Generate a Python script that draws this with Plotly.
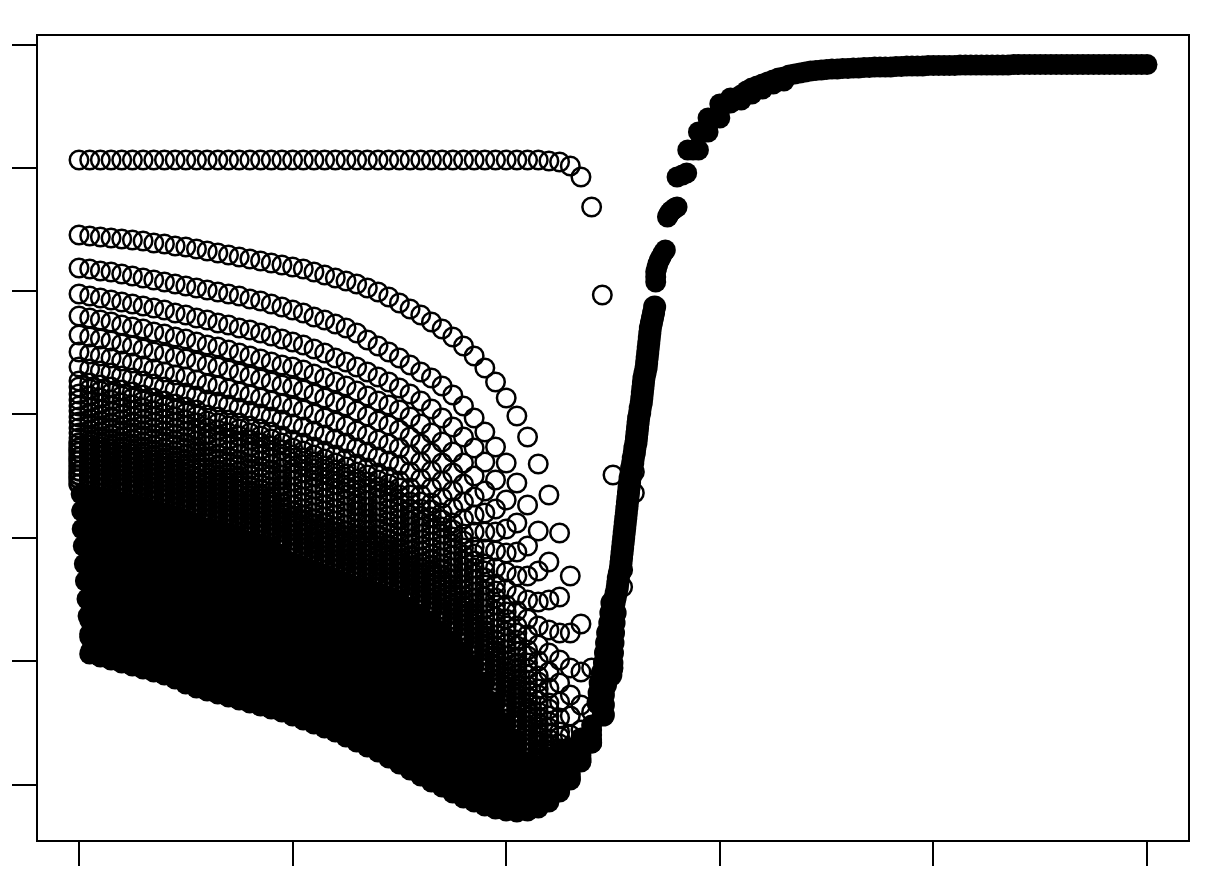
import plotly.graph_objects as go

x_ticks = [0, 20, 40, 60, 80, 100]
y_ticks = [15, 139, 262, 386, 509, 632, 755]

# upper family of curves, one value per x index starting at 0
flat_curve = [640] * 43 + [640, 639, 638, 634, 623, 593, 505, 325]
open_curves = [
    [565,564,563,562,561,560,559,557,556,554,553,551,549,547,545,543,541,539,537,535,533,531,528,525,522,519,516,512,508,503,497,491,485,478,471,463,454,444,432,418,402,384,363,336,305,267,224,176,132],
    [532,531,529,528,526,524,522,520,518,516,514,512,510,508,506,504,501,499,496,493,490,487,483,480,476,472,467,460,454,448,442,435,428,422,414,405,394,382,368,353,337,317,295,269,238,203,167,128,88],
    [506,504,502,500,498,496,494,492,490,487,485,482,480,477,475,472,470,467,464,461,458,455,451,447,442,438,433,428,423,418,412,406,399,391,382,373,363,352,338,320,300,277,254,229,200,167,132,95],
    [484,482,480,478,475,473,471,468,466,463,461,458,455,453,450,447,444,441,438,435,433,430,426,422,418,414,409,404,399,395,390,383,376,367,358,348,337,324,309,291,271,248,224,198,170,140,105,70],
    [465,463,461,459,456,454,451,448,446,443,441,438,435,433,430,427,424,421,418,415,413,410,406,402,398,394,389,384,379,375,370,363,356,347,337,327,316,303,287,268,247,224,200,174,147,117,84,50],
    [448,446,444,442,439,437,434,431,428,425,423,420,416,414,411,408,405,402,399,396,393,390,386,382,378,374,369,365,360,356,352,345,338,329,319,309,298,285,268,249,228,205,181,155,128,98,65],
    [433,431,429,427,424,422,419,416,413,410,407,404,400,398,395,392,389,386,383,380,376,373,369,365,361,357,352,348,343,339,335,328,321,312,302,292,281,268,251,232,211,189,165,139,112,82,50],
    [419,417,415,413,410,408,405,402,399,396,393,390,385,383,380,377,374,371,368,364,360,357,353,349,345,341,336,332,327,323,319,312,305,297,287,277,266,253,236,216,195,174,150,124,97,68],
    [413,411,409,407,404,402,399,396,393,390,387,384,379,377,374,371,367,364,361,357,352,349,345,341,337,333,328,325,320,316,312,305,298,290,280,270,259,246,229,209,188,167,144,118,91,63],
    [406,404,402,400,397,395,392,389,386,383,380,377,372,370,367,364,360,357,354,350,345,342,338,334,330,326,321,318,313,309,305,298,291,283,273,263,252,239,222,202,181,160,137,111,84,56],
    [400,398,396,394,391,389,386,383,380,377,374,370,365,363,360,357,353,350,347,343,338,335,331,327,323,319,314,311,306,302,298,291,284,276,266,256,245,232,215,195,174,154,131,105,78,51],
    [394,392,390,388,385,383,380,377,374,371,368,364,359,357,354,351,347,344,341,337,331,328,324,320,316,312,307,305,300,296,292,285,278,270,260,250,239,226,209,189,168,148,125,99,72,45],
    [389,387,385,383,380,378,375,372,369,366,363,359,354,352,349,346,342,339,336,331,325,321,317,313,309,305,300,299,294,290,286,279,272,264,254,244,233,220,203,183,162,143,120,94,67,40],
    [383,381,379,377,374,372,369,366,363,360,357,353,348,346,343,340,336,333,330,325,319,315,311,307,303,299,294,293,288,284,280,273,266,258,248,238,227,214,197,177,156,137,114,88,61,34],
    [378,376,374,372,369,367,364,361,358,355,352,348,343,341,338,335,331,328,325,320,313,309,305,301,297,293,288,287,282,278,274,267,260,252,242,232,221,208,191,171,150,132,109,83,56],
    [372,370,368,366,363,361,358,355,352,349,346,342,337,335,332,329,325,322,319,314,307,303,299,295,291,287,282,281,276,272,268,261,254,246,236,226,215,202,185,165,144,126,103,77,50],
    [367,365,363,361,358,356,353,350,347,344,341,337,332,330,327,324,319,316,313,308,301,297,293,289,285,281,277,276,271,267,263,256,249,241,231,221,210,197,180,160,139,121,98,73,46],
    [362,360,358,356,353,351,348,345,342,339,336,332,327,325,322,319,314,311,308,303,295,291,287,283,279,275,271,270,265,261,257,250,243,235,225,215,204,191,174,154,133,115,92,67,40],
    [357,355,353,351,348,346,343,340,337,334,331,327,322,320,317,314,309,306,303,297,289,285,281,277,273,269,265,264,259,255,251,244,237,230,220,210,199,186,169,149,128,111,88,63,37],
    [352,350,348,346,343,341,338,335,332,329,326,322,317,315,312,309,304,301,298,292,284,280,276,272,268,264,260,259,254,250,246,239,232,225,215,205,194,181,164,144,123,106,83,58,32],
    [348,346,344,342,339,337,334,331,328,325,322,318,313,311,308,305,300,297,294,287,279,275,271,267,263,259,255,254,249,245,241,234,227,220,210,200,189,176,159,139,118,102,79,55],
    [343,341,339,337,334,332,329,326,323,320,317,313,308,306,303,300,295,292,289,282,274,270,266,262,258,254,250,249,244,240,236,229,222,215,205,195,184,171,154,134,113,97,74,50],
    [339,337,335,333,330,328,325,322,319,316,313,309,304,302,299,296,291,288,285,278,270,266,262,258,254,250,246,245,240,236,232,225,218,211,201,191,180,167,150,130,109,93,70,47],
    [334,332,330,328,325,323,320,317,314,311,308,304,299,297,294,291,286,283,280,273,265,261,257,253,249,245,241,240,235,231,227,220,213,206,196,186,175,162,145,125,104,88,65,42],
    [329,327,325,323,320,318,315,312,309,306,303,299,294,292,289,286,281,278,275,268,260,256,252,248,244,240,236,235,230,226,222,215,208,201,191,181,170,157,140,120,99,83,60,38],
    [325,323,321,319,316,314,311,308,305,302,299,295,290,288,285,282,277,274,271,264,256,252,248,244,240,236,232,231,226,222,218,211,204,197,187,177,166,153,136,116,95,79,56,34],
    [321,319,317,315,312,310,307,304,301,298,295,291,286,284,281,278,273,270,267,260,252,248,244,240,236,232,228,227,222,218,214,207,200,193,183,173,162,149,132,112,91,75,52],
    [316,314,312,310,307,305,302,299,296,293,290,286,281,279,276,273,268,265,262,255,247,243,239,235,231,227,223,222,217,213,209,202,195,188,178,168,157,144,127,107,86,70,47],
]

# dense lower part, too overlapped to read one ring at a time
dense_rows = [
    [306,304,302,300,297,295,292,289,286,283,280,276,271,269,266,263,258,255,252,245,237,233,229,225,221,217,213,212,207,203,199,192,185,178,168,158,147,134,117,97,76,60,37,30,42,48,52,62,75],
    [289,286,284,282,279,277,274,271,268,265,262,258,253,251,248,245,240,237,234,228,220,216,212,208,204,200,196,194,189,185,181,174,167,160,151,141,131,119,103,85,66,52,32,20,30,36,42,55,70],
    [271,268,266,264,261,259,256,253,250,247,244,240,235,233,230,227,222,219,216,210,203,199,195,191,187,183,179,176,171,167,163,156,149,142,134,124,115,104,89,73,56,44,27,15,18,26,36,50,65],
    [254,251,249,246,244,241,238,235,232,229,225,221,217,215,212,209,204,201,198,193,186,182,178,174,170,166,161,158,154,149,145,138,131,125,117,108,99,89,76,62,47,36,21,10,12,20,31,45,60],
    [236,233,231,229,226,223,220,217,214,211,207,203,199,197,194,191,186,183,180,175,169,165,161,157,153,149,144,141,136,131,127,120,113,107,100,91,83,74,62,50,37,28,16,5,6,14,26,42,58],
    [219,216,213,211,208,205,202,199,196,193,189,185,181,178,175,172,168,165,162,158,152,148,144,140,136,131,127,123,118,113,108,102,96,89,83,74,66,59,48,38,27,20,11,0,3,11,23,40,57],
    [201,198,196,193,190,187,184,181,178,175,171,167,163,160,157,154,150,147,144,140,135,131,127,123,119,114,110,105,101,95,90,84,78,71,65,57,50,44,34,26,18,12,5,-2,0,9,21],
    [184,180,178,175,172,169,166,163,160,157,152,149,145,142,139,136,132,129,126,123,118,114,110,106,102,97,93,88,83,77,72,66,60,53,48,41,34,29,20,14,8,4,0],
    [166,163,160,158,155,152,149,146,143,139,134,130,127,124,121,118,115,112,109,105,101,97,93,89,85,80,75,70,65,59,54,48,42,36,31,24,18,14,7,3,-1,-4,-6],
    [149,146,143,140,137,134,131,128,125,121,116,112,109,106,103,100,97,94,91,88,84,80,76,72,68,63,58,53,48,42,36,30,24,18,13,7,2,-2,-6,-9,-11,-12,-11,-8,-2,8,20,38,57,85,132],
]
# the left edge of the lower rows leans to the right
dense_first_x = [0.2, 0.25, 0.3, 0.4, 0.5, 0.6, 0.75, 0.85, 1.0, 1.1]

# steep rising branch
branch_x = [48.6,48.7,48.8,49,49.2,49.3,49.4,49.5,49.7,49.8,49.9,
            49.1,49.1,49.1,49.3,49.8,49.85,49.9,49.95,50,50.05,50.1,50.2,
            50.1,50.2,50.3,50.4,50.45,50.5,50.6,50.7,50.75,50.8,50.85,50.9,50.95,51,51.05,51.1,51.15,51.2,51.25,51.3,
            51.35,51.4,51.45,51.5,51.55,51.6,51.7,51.75,51.85,51.9,52,52.05,52.15,52.2,52.25,52.3,52.35,52.4,52.5,52.55,
            52.65,52.7,52.75,52.8,52.85,52.9,53,53.1,53.15,53.2,53.25,53.3,53.35,53.4,53.45,53.5,53.6,53.7,53.8,53.9]
branch_y = [97,107,117,127,137,147,157,167,177,187,197,
            85,95,105,115,125,131,137,147,157,167,177,187,
            197,202,207,212,217,222,227,232,237,242,247,252,257,262,267,272,277,282,287,292,
            297,302,307,312,317,322,327,332,337,342,347,352,357,362,367,372,377,382,387,392,
            397,402,407,412,417,422,427,432,437,442,447,452,457,462,467,472,477,482,487,493]
blob_x = [54,54,54,54.1,54.2,54.35,54.5,54.7,54.9,55.1,55.2,55.3,55.45,55.6,55.8,56]
blob_y = [518,523,528,532,536,540,543,547,550,583,585,587,589,590,592,593]
pair_x = [56,56.5,56.9,57,57.5,58,58,58.5,58.9,58.9,59.5,60,60,60.5,61]
pair_y = [623,625,627,650,650,650,668,668,668,682,682,682,696,696,697]
shoulder_x = [61,62,63,64,65,66]
shoulder_y = [702,700,706,711,716,719]
plateau_x = [62 + k / 2 for k in range(77)]
plateau_y = [705,709,712,714,716,718,720,722,723,725,726,727,728,729,729.5,730,730.5,731,731,731.5,731.5,732,732,732.5,732.5,733,733,733,733,733.5,733.5,734,734,734,734,734.5,734.5,734.5,734.5,734.5,734.5,735,735,735,735,735,735,735,735,735,735,735.5,735.5,735.5,735.5,735.5,735.5,735.5,735.5,735.5,735.5,735.5,735.5,735.5,735.5,735.5,735.5,735.5,735.5,735.5,735.5,735.5,735.5,735.5,735.5,735.5,735.5]

# rings peeking out from behind the branch
stray_x = [50.9, 50.9, 52, 52]
stray_y = [213, 230, 328, 307]

ring = dict(symbol="circle-open", size=18.5, color="black", line=dict(width=2.5, color="black"))
heavy_ring = dict(symbol="circle-open", size=18.5, color="black", line=dict(width=3, color="black"))
disc = dict(symbol="circle", size=21, color="black", line=dict(width=0))
wide_disc = dict(symbol="circle", size=23, color="black", line=dict(width=0))

fig = go.Figure()
for i, row in enumerate(dense_rows):
    xs = list(range(len(row)))
    xs[0] = dense_first_x[i]
    fig.add_trace(go.Scatter(x=xs, y=row, mode="markers", marker=disc))
for i, row in enumerate([flat_curve] + open_curves):
    fig.add_trace(go.Scatter(x=list(range(len(row))), y=row, mode="markers", marker=heavy_ring if i > 18 else ring))
fig.add_trace(go.Scatter(x=stray_x, y=stray_y, mode="markers", marker=ring))
fig.add_trace(go.Scatter(x=branch_x, y=branch_y, mode="markers", marker=wide_disc))
fig.add_trace(go.Scatter(x=blob_x, y=blob_y, mode="markers", marker=disc))
fig.add_trace(go.Scatter(x=pair_x, y=pair_y, mode="markers", marker=disc))
fig.add_trace(go.Scatter(x=shoulder_x, y=shoulder_y, mode="markers", marker=disc))
fig.add_trace(go.Scatter(x=plateau_x, y=plateau_y, mode="markers", marker=disc))

axis_style = dict(showgrid=False, zeroline=False, showline=True, mirror=True, linecolor="black", linewidth=2,
                  ticks="outside", ticklen=24, tickwidth=2, tickcolor="black", showticklabels=False, automargin=False)
fig.update_xaxes(range=[-3.84, 103.84], tickvals=x_ticks, **axis_style)
fig.update_yaxes(range=[-40, 764], tickvals=y_ticks, **axis_style)
# the page keeps an 8px body margin, so the figure is a little smaller than the window
fig.update_layout(width=1198, height=876, margin=dict(l=30, r=18, t=28, b=44),
                  showlegend=False, plot_bgcolor="white", paper_bgcolor="white")
fig.write_html("out.html")
